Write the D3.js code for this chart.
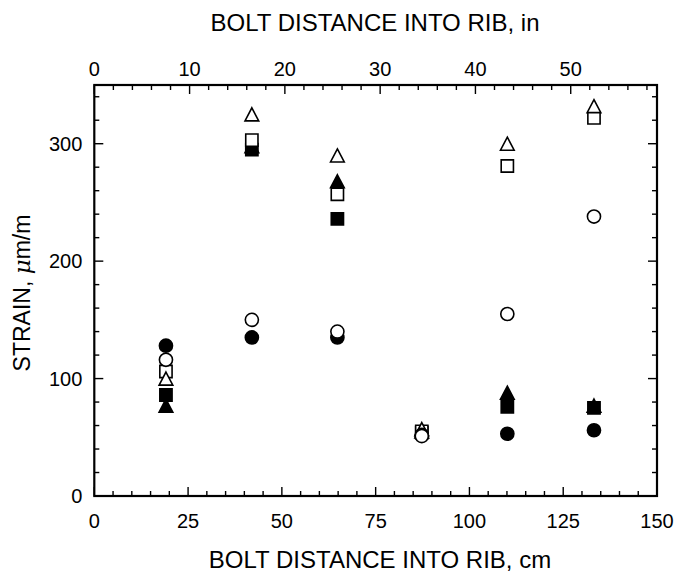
<!DOCTYPE html>
<html><head><meta charset="utf-8">
<script src="https://cdn.jsdelivr.net/npm/d3@7"></script>
<style>body{margin:0;background:#fff}svg{display:block}text{font-family:"Liberation Sans",Arial,sans-serif;fill:#000}.tk{font-family:"Liberation Sans Narrow","Arial Narrow","Liberation Sans",sans-serif}</style>
</head><body>
<script>
const positionsCm = [19.1, 42, 64.8, 87.3, 110.1, 133.2];
const filledCircle = [128, 135, 135, 52, 53, 56];
const openCircle   = [116, 150, 140, 51, 155, 238];
const filledSquare = [86, 295, 236, 54, 76, 75];
const openSquare   = [106, 303, 257, 55, 281, 322];
const filledTri    = [77, 298, 268, 55, 88, 77];
const openTri      = [100, 325, 290, 57, 300, 332];
const xTicksCm = [0, 25, 50, 75, 100, 125, 150];
const xTicksIn = [0, 10, 20, 30, 40, 50];
const yTicks = [0, 100, 200, 300];

const W = 674, H = 577;
const x0 = 94.3, x1 = 657, y0 = 496, y1 = 85;
const svg = d3.select("body").append("svg").attr("width", W).attr("height", H);
const x = d3.scaleLinear().domain([0, 150]).range([x0, x1]);
const xIn = d3.scaleLinear().domain([0, 150 / 2.54]).range([x0, x1]);
const y = d3.scaleLinear().domain([0, 350]).range([y0, y1]);

// ticks (inward)
const g = svg.append("g").attr("stroke", "#000").attr("stroke-width", 1.4);
d3.range(0, 151, 5).forEach(v => {
  const L = v % 25 === 0 ? 9 : 5;
  g.append("line").attr("x1", x(v)).attr("x2", x(v)).attr("y1", y0).attr("y2", y0 - L);
});
d3.range(0, 60, 2).forEach(v => {
  const L = v % 10 === 0 ? 9 : 5;
  g.append("line").attr("x1", xIn(v)).attr("x2", xIn(v)).attr("y1", y1).attr("y2", y1 + L);
});
d3.range(0, 351, 20).forEach(v => {
  const L = v % 100 === 0 ? 9 : 5;
  g.append("line").attr("x1", x0).attr("x2", x0 + L).attr("y1", y(v)).attr("y2", y(v));
  g.append("line").attr("x1", x1).attr("x2", x1 - L).attr("y1", y(v)).attr("y2", y(v));
});
svg.append("rect").attr("x", x0).attr("y", y1).attr("width", x1 - x0).attr("height", y0 - y1)
  .attr("fill", "none").attr("stroke", "#000").attr("stroke-width", 2.2);

// tick labels
const fs = 20;
svg.append("g").selectAll("text").data(xTicksCm).join("text").attr("class", "tk")
  .attr("x", d => x(d)).attr("y", y0 + 32).attr("text-anchor", "middle").attr("font-size", fs).text(d => d);
svg.append("g").selectAll("text").data(xTicksIn).join("text").attr("class", "tk")
  .attr("x", d => xIn(d)).attr("y", y1 - 9).attr("text-anchor", "middle").attr("font-size", fs).text(d => d);
svg.append("g").selectAll("text").data(yTicks).join("text").attr("class", "tk")
  .attr("x", x0 - 12).attr("y", d => y(d) + 7).attr("text-anchor", "end").attr("font-size", fs).text(d => d);

// axis titles
svg.append("text").attr("x", 375).attr("y", 31).attr("text-anchor", "middle").attr("font-size", 24)
  .text("BOLT DISTANCE INTO RIB, in");
svg.append("text").attr("x", 380).attr("y", 568).attr("text-anchor", "middle").attr("font-size", 24)
  .text("BOLT DISTANCE INTO RIB, cm");
const yt = svg.append("text").attr("transform", "translate(30,293) rotate(-90)").attr("text-anchor", "middle").attr("font-size", 23);
yt.append("tspan").text("STRAIN, ");
yt.append("tspan").attr("font-style", "italic").attr("font-family", "DejaVu Serif, serif").text("μ");
yt.append("tspan").text("m/m");

// custom triangle symbol centered on its bounding box
const triSym = {draw(ctx, size) {
  const h = Math.sqrt(size), w = h * 1.05;
  ctx.moveTo(0, -h / 2); ctx.lineTo(w / 2, h / 2); ctx.lineTo(-w / 2, h / 2); ctx.closePath();
}};

// markers
const series = [
  {vals: filledSquare, shape: d3.symbolSquare, fill: "#000", size: 150},
  {vals: filledTri, shape: triSym, fill: "#000", size: 170},
  {vals: openSquare, shape: d3.symbolSquare, fill: "#fff", size: 150},
  {vals: openTri, shape: triSym, fill: "#fff", size: 170},
  {vals: filledCircle, shape: d3.symbolCircle, fill: "#000", size: 135},
  {vals: openCircle, shape: d3.symbolCircle, fill: "#fff", size: 135}
];
series.forEach(s => {
  const sym = d3.symbol().type(s.shape).size(s.size);
  svg.append("g").selectAll("path").data(s.vals).join("path")
    .attr("transform", (d, i) => `translate(${x(positionsCm[i])},${y(d)})`)
    .attr("d", sym).attr("fill", s.fill).attr("stroke", "#000").attr("stroke-width", 1.6);
});
</script>
</body></html>
